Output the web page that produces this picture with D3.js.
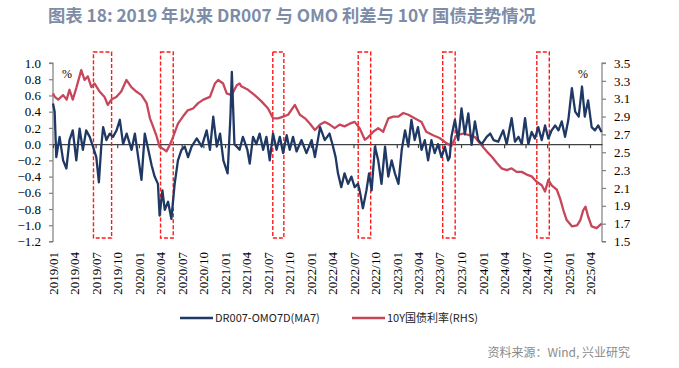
<!DOCTYPE html>
<html>
<head>
<meta charset="utf-8">
<script src="https://cdn.jsdelivr.net/npm/d3@7"></script>
<style>
  body { margin: 0; background: #fff; }
  svg text { font-family: "Liberation Serif", "DejaVu Serif", serif; }
</style>
</head>
<body>
<div id="elements"></div>
<script>
// DR007 - OMO7D spread (MA7), left axis, %
var spreadDates = ["2019-01-01","2019-01-08","2019-01-15","2019-01-29","2019-02-13","2019-02-27","2019-03-12","2019-03-26","2019-04-10","2019-04-24",
    "2019-05-08","2019-05-22","2019-06-06","2019-06-20","2019-07-04","2019-07-15","2019-07-25","2019-08-02","2019-08-16","2019-08-30",
    "2019-09-13","2019-09-28","2019-10-12","2019-10-26","2019-11-10","2019-12-01","2019-12-15","2019-12-29","2020-01-12","2020-01-26",
    "2020-02-10","2020-02-24","2020-03-08","2020-03-22","2020-03-29","2020-04-10","2020-04-20","2020-05-04","2020-05-18","2020-06-01",
    "2020-06-15","2020-06-30","2020-07-14","2020-07-28","2020-08-12","2020-09-03","2020-09-24","2020-10-15","2020-10-29","2020-11-12",
    "2020-11-27","2020-12-11","2020-12-25","2021-01-12","2021-01-24","2021-01-30","2021-02-10","2021-03-04","2021-03-18","2021-04-06",
    "2021-04-16","2021-04-30","2021-05-14","2021-05-28","2021-06-12","2021-06-26","2021-07-10","2021-07-24","2021-08-08","2021-08-22",
    "2021-09-05","2021-09-20","2021-10-03","2021-10-17","2021-11-01","2021-11-22","2021-12-13","2022-01-04","2022-01-18","2022-02-09",
    "2022-03-01","2022-03-21","2022-04-05","2022-04-16","2022-04-26","2022-05-10","2022-05-24","2022-06-08","2022-06-22","2022-07-06",
    "2022-07-20","2022-07-27","2022-08-10","2022-08-25","2022-09-05","2022-09-16","2022-09-30","2022-10-14","2022-10-28","2022-11-12",
    "2022-11-26","2022-12-10","2022-12-24","2023-01-08","2023-01-22","2023-02-05","2023-02-19","2023-03-04","2023-03-18","2023-04-01",
    "2023-04-16","2023-04-30","2023-05-14","2023-05-28","2023-06-11","2023-06-25","2023-07-10","2023-07-24","2023-08-07","2023-08-14",
    "2023-08-21","2023-09-05","2023-09-19","2023-10-03","2023-10-17","2023-11-01","2023-11-15","2023-11-29","2023-12-13","2023-12-28",
    "2024-01-18","2024-02-02","2024-02-16","2024-03-07","2024-03-28","2024-04-12","2024-05-03","2024-05-17","2024-06-01","2024-06-15",
    "2024-06-29","2024-07-13","2024-07-27","2024-08-10","2024-08-24","2024-09-08","2024-09-22","2024-10-06","2024-10-20","2024-11-04",
    "2024-11-18","2024-12-02","2024-12-16","2024-12-30","2025-01-14","2025-01-28","2025-02-12","2025-02-26","2025-03-10","2025-03-24",
    "2025-04-08","2025-04-22","2025-05-06","2025-05-20"];
var spreadValues = [0.50,0.40,-0.16,0.09,-0.20,-0.30,0.05,0.17,-0.20,0.19,
    -0.07,0.17,0.09,-0.03,-0.16,-0.47,-0.03,0.21,0.05,0.13,
    0.09,0.17,0.30,0.00,0.13,-0.07,0.13,-0.16,-0.44,0.13,
    -0.07,-0.26,-0.40,-0.49,-0.88,-0.57,-0.81,-0.71,-0.92,-0.49,
    -0.20,-0.07,-0.03,-0.16,-0.03,0.07,-0.03,0.17,-0.07,0.34,
    -0.03,0.13,-0.20,-0.36,0.34,0.89,0.00,-0.07,0.09,-0.07,
    -0.24,0.09,0.00,0.13,-0.07,0.09,-0.20,0.13,-0.07,0.09,
    -0.11,0.11,-0.07,0.09,-0.09,0.05,-0.11,0.05,-0.16,0.21,
    0.05,0.13,-0.03,-0.16,-0.36,-0.53,-0.36,-0.49,-0.40,-0.53,
    -0.49,-0.57,-0.79,-0.57,-0.36,-0.57,-0.03,-0.20,-0.49,-0.03,
    -0.40,-0.20,-0.36,-0.49,-0.07,0.17,-0.03,0.30,0.05,0.21,
    -0.07,0.05,-0.20,0.05,-0.11,0.00,-0.16,-0.03,-0.20,-0.16,
    0.09,0.30,0.05,0.44,0.12,0.38,-0.01,0.28,0.05,0.00,
    0.09,0.13,0.05,0.03,0.17,0.00,0.32,0.03,0.09,0.00,
    0.32,0.00,0.15,0.07,0.21,0.05,0.23,0.07,0.17,0.23,
    0.17,0.28,0.09,0.30,0.69,0.40,0.34,0.71,0.34,0.54,
    0.21,0.17,0.23,0.15];

// 10Y government bond yield, right axis, %
var yieldDates = ["2019-01-01","2019-01-09","2019-01-23","2019-02-13","2019-02-28","2019-03-12","2019-03-26","2019-04-10","2019-05-01","2019-05-15",
    "2019-05-29","2019-06-13","2019-06-27","2019-07-18","2019-08-08","2019-08-22","2019-09-06","2019-09-27","2019-10-18","2019-11-09",
    "2019-11-30","2019-12-21","2020-01-12","2020-02-03","2020-02-17","2020-03-01","2020-03-15","2020-03-29","2020-04-12","2020-04-27",
    "2020-05-11","2020-05-25","2020-06-15","2020-07-06","2020-07-27","2020-08-18","2020-09-09","2020-10-01","2020-10-29","2020-11-19",
    "2020-12-03","2020-12-24","2021-01-08","2021-01-29","2021-02-20","2021-03-04","2021-03-11","2021-04-09","2021-05-07","2021-06-05",
    "2021-07-03","2021-07-24","2021-08-15","2021-09-05","2021-09-26","2021-10-25","2021-11-15","2021-12-07","2021-12-28","2022-01-18",
    "2022-02-09","2022-03-01","2022-03-22","2022-04-12","2022-05-03","2022-05-24","2022-06-15","2022-07-06","2022-07-27","2022-08-18",
    "2022-09-02","2022-09-23","2022-10-14","2022-11-04","2022-11-26","2022-12-17","2023-01-08","2023-01-29","2023-02-19","2023-03-18",
    "2023-04-16","2023-05-06","2023-06-04","2023-07-02","2023-08-01","2023-08-21","2023-09-12","2023-10-10","2023-11-08","2023-11-29",
    "2023-12-20","2024-01-18","2024-02-09","2024-03-01","2024-03-21","2024-04-12","2024-05-03","2024-05-24","2024-06-15","2024-07-06",
    "2024-07-27","2024-08-17","2024-09-08","2024-09-22","2024-10-06","2024-10-20","2024-11-11","2024-11-25","2024-12-09","2024-12-23",
    "2025-01-14","2025-02-05","2025-02-19","2025-03-03","2025-03-13","2025-03-24","2025-04-08","2025-04-29","2025-05-20"];
var yieldValues = [3.16,3.12,3.09,3.14,3.09,3.20,3.09,3.22,3.42,3.31,
    3.35,3.23,3.27,3.18,3.12,3.03,3.09,3.12,3.18,3.31,
    3.23,3.18,3.14,3.05,2.88,2.79,2.69,2.56,2.54,2.51,
    2.58,2.67,2.82,2.90,2.97,2.99,3.05,3.09,3.12,3.27,
    3.31,3.27,3.16,3.14,3.25,3.27,3.24,3.20,3.14,3.07,
    2.99,2.88,2.88,2.90,2.92,3.03,2.92,2.88,2.82,2.75,
    2.81,2.84,2.81,2.77,2.81,2.79,2.82,2.84,2.77,2.64,
    2.67,2.73,2.77,2.73,2.88,2.90,2.90,2.94,2.92,2.88,
    2.84,2.73,2.69,2.66,2.60,2.57,2.69,2.71,2.69,2.67,
    2.60,2.51,2.45,2.38,2.32,2.30,2.32,2.28,2.28,2.25,
    2.23,2.17,2.13,2.06,2.19,2.13,2.08,1.98,1.85,1.74,
    1.67,1.68,1.74,1.85,1.89,1.78,1.67,1.65,1.70];

// highlighted periods (red dashed boxes)
var boxStarts = ["2019-06-22","2020-04-02","2021-07-23","2022-07-21","2023-07-15","2024-08-18"];
var boxEnds   = ["2019-09-07","2020-05-26","2021-09-08","2022-09-12","2023-09-06","2024-10-10"];

var leftTicks = [1.0,0.8,0.6,0.4,0.2,0.0,-0.2,-0.4,-0.6,-0.8,-1.0,-1.2];
var rightTicks = [3.5,3.3,3.1,2.9,2.7,2.5,2.3,2.1,1.9,1.7,1.5];

var width = 679, height = 368;
var parse = d3.timeParse("%Y-%m-%d");

var svg = d3.select("#elements").append("svg")
    .attr("width", width)
    .attr("height", height);

var x = d3.scaleTime()
    .domain([parse("2019-01-01"), parse("2025-05-22")])
    .range([53, 602]);
var yL = d3.scaleLinear().domain([-1.2, 1.0]).range([241.5, 63]);
var yR = d3.scaleLinear().domain([1.5, 3.5]).range([241.5, 63]);

// title
svg.append("text")
    .attr("x", 48)
    .attr("y", 22)
    .style("font-family", "'Noto Sans CJK SC', 'Noto Sans', sans-serif")
    .style("font-size", "17.3px")
    .style("font-weight", "bold")
    .attr("fill", "#7d8ca7")
    .text("图表 18: 2019 年以来 DR007 与 OMO 利差与 10Y 国债走势情况");

// left axis
var gL = svg.append("g")
    .attr("transform", "translate(53,0)")
    .call(d3.axisLeft(yL).tickValues(leftTicks).tickSize(4).tickPadding(8)
        .tickFormat(d3.format(".1f")));
// right axis
var gR = svg.append("g")
    .attr("transform", "translate(602,0)")
    .call(d3.axisRight(yR).tickValues(rightTicks).tickSize(4).tickPadding(8)
        .tickFormat(d3.format(".1f")));
[gL, gR].forEach(function(g) {
    g.selectAll("path, line").attr("stroke", "#7f7f7f").attr("stroke-width", 1.2);
    g.selectAll("text").style("font-size", "13px").attr("fill", "#000")
        .style("font-family", "'Liberation Serif', serif");
});
gL.select(".domain").attr("d", "M-4," + yL(1.0) + "H0V" + yL(-1.2) + "H-4");
gR.select(".domain").attr("d", "M4," + yR(3.5) + "H0V" + yR(1.5) + "H4");

svg.append("text").attr("x", 62).attr("y", 78).style("font-size", "12px").text("%");
svg.append("text").attr("x", 578).attr("y", 78).style("font-size", "12px").text("%");

// quarterly ticks
var quarterTicks = d3.timeMonth.range(parse("2019-01-01"), parse("2025-04-02"), 3);

// x axis along zero line
var gX = svg.append("g")
    .attr("transform", "translate(0," + yL(0) + ")")
    .call(d3.axisBottom(x).tickValues(quarterTicks).tickSize(4).tickSizeOuter(0).tickFormat(""));
gX.selectAll("path, line").attr("stroke", "#404040").attr("stroke-width", 1.2);

// x labels at bottom
var gXL = svg.append("g")
    .attr("transform", "translate(0,252)")
    .call(d3.axisBottom(x).tickValues(quarterTicks).tickSize(0)
        .tickFormat(d3.timeFormat("%Y/%m")));
gXL.select(".domain").remove();
gXL.selectAll("text")
    .attr("transform", "rotate(-90)")
    .attr("text-anchor", "end")
    .attr("x", 0)
    .attr("y", 0)
    .attr("dx", 0)
    .attr("dy", "0.35em")
    .attr("fill", "#000")
    .style("font-size", "13px")
    .style("font-family", "'Liberation Serif', serif");

// red dashed boxes
svg.append("g")
    .selectAll("rect")
    .data(boxStarts.map(function(s, i) { return [parse(s), parse(boxEnds[i])]; }))
    .enter()
    .append("rect")
    .attr("x", function(d) { return x(d[0]); })
    .attr("width", function(d) { return x(d[1]) - x(d[0]); })
    .attr("y", 52)
    .attr("height", 186)
    .attr("fill", "none")
    .attr("stroke", "#ff1a1a")
    .attr("stroke-width", 1.4)
    .attr("stroke-dasharray", "4,2");

var spread = spreadDates.map(function(d, i) { return {date: parse(d), value: spreadValues[i]}; });
var yld = yieldDates.map(function(d, i) { return {date: parse(d), value: yieldValues[i]}; });

svg.append("path")
    .datum(yld)
    .attr("fill", "none")
    .attr("stroke", "#c8465a")
    .attr("stroke-width", 2.3)
    .attr("stroke-linejoin", "round")
    .attr("d", d3.line()
        .x(function(d) { return x(d.date); })
        .y(function(d) { return yR(d.value); }));

svg.append("path")
    .datum(spread)
    .attr("fill", "none")
    .attr("stroke", "#1f3864")
    .attr("stroke-width", 2.3)
    .attr("stroke-linejoin", "round")
    .attr("d", d3.line()
        .x(function(d) { return x(d.date); })
        .y(function(d) { return yL(d.value); }));

// legend
var legend = [
    {label: "DR007-OMO7D(MA7)", color: "#1f3864", x: 180},
    {label: "10Y国债利率(RHS)", color: "#c8465a", x: 352}
];
var lg = svg.append("g").selectAll("g").data(legend).enter().append("g")
    .attr("transform", function(d) { return "translate(" + d.x + ",318)"; });
lg.append("line")
    .attr("x1", 0).attr("x2", 33).attr("y1", 0).attr("y2", 0)
    .attr("stroke", function(d) { return d.color; })
    .attr("stroke-width", 2.5);
lg.append("text")
    .attr("x", 35)
    .attr("dy", "0.35em")
    .style("font-family", "'Noto Sans CJK SC', 'DejaVu Sans', sans-serif")
    .style("font-size", "11px")
    .attr("fill", "#222")
    .text(function(d) { return d.label; });

// source
svg.append("text")
    .attr("x", 630)
    .attr("y", 357)
    .attr("text-anchor", "end")
    .style("font-family", "'Noto Sans CJK SC', sans-serif")
    .style("font-size", "12px")
    .attr("fill", "#8a8a8a")
    .text("资料来源：Wind, 兴业研究");
</script>
</body>
</html>
